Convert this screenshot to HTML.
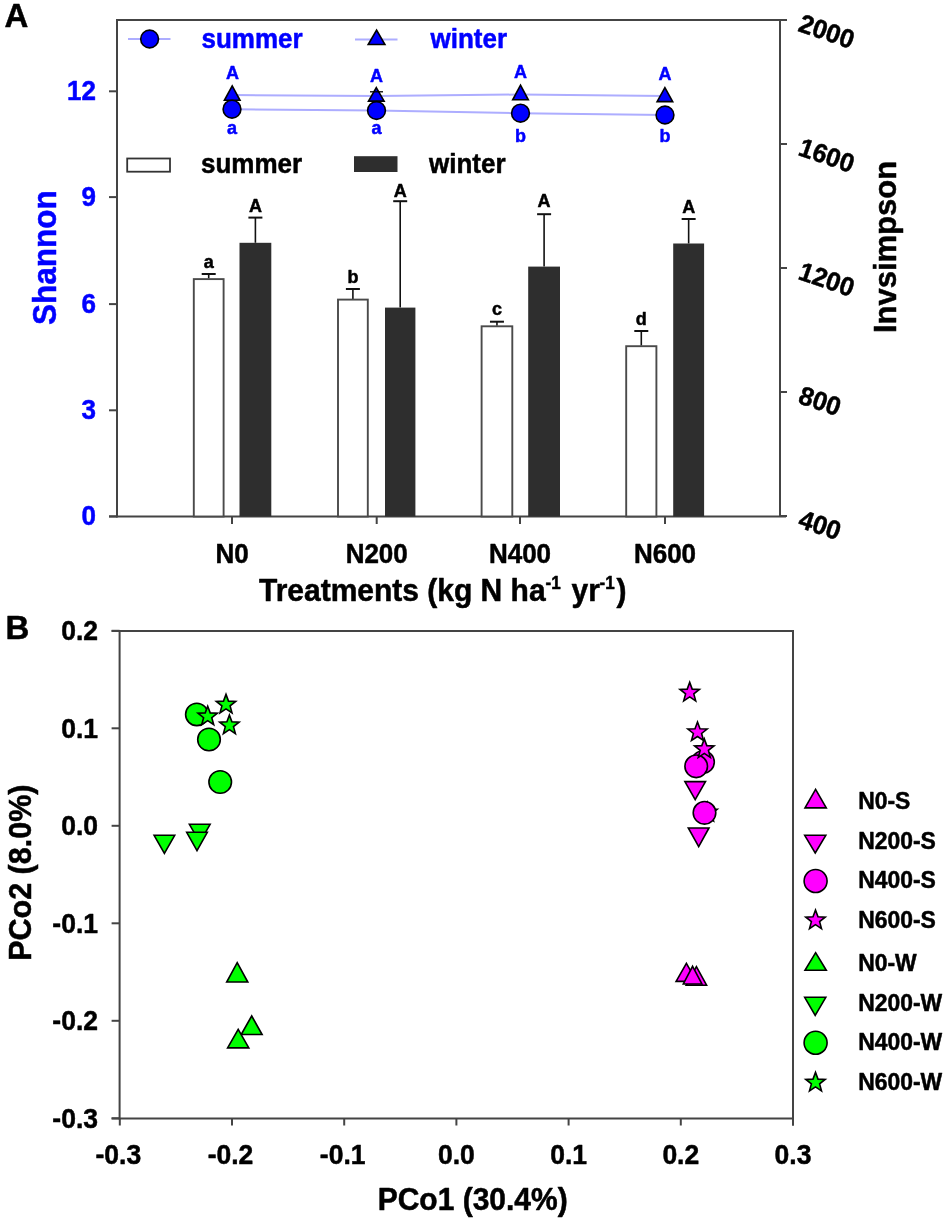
<!DOCTYPE html>
<html><head><meta charset="utf-8"><style>
html,body{margin:0;padding:0;background:#fff;overflow:hidden;}
svg{display:block;filter:blur(0.4px);}
text{font-family:"Liberation Sans",sans-serif;font-weight:bold;}
</style></head><body>
<svg width="945" height="1222" viewBox="0 0 945 1222">
<rect width="945" height="1222" fill="#fff"/>
<text transform="translate(4.5,27.3) scale(1,1.03)" font-size="33" fill="#000" stroke="#000" stroke-width="0.5" stroke-linejoin="round" text-anchor="start" >A</text>
<line x1="117" y1="19" x2="117" y2="517.5" stroke="#444" stroke-width="2"/>
<line x1="116" y1="20" x2="787" y2="20" stroke="#444" stroke-width="2"/>
<line x1="780" y1="20" x2="780" y2="516.5" stroke="#444" stroke-width="2"/>
<line x1="109" y1="516.5" x2="786" y2="516.5" stroke="#444" stroke-width="2"/>
<line x1="109" y1="516.4" x2="117" y2="516.4" stroke="#444" stroke-width="2"/>
<text transform="translate(96,525.4) scale(1,1.03)" font-size="26" fill="#0000ff" stroke="#0000ff" stroke-width="0.5" stroke-linejoin="round" text-anchor="end" >0</text>
<line x1="109" y1="410.3" x2="117" y2="410.3" stroke="#444" stroke-width="2"/>
<text transform="translate(96,419.3) scale(1,1.03)" font-size="26" fill="#0000ff" stroke="#0000ff" stroke-width="0.5" stroke-linejoin="round" text-anchor="end" >3</text>
<line x1="109" y1="304.1" x2="117" y2="304.1" stroke="#444" stroke-width="2"/>
<text transform="translate(96,313.1) scale(1,1.03)" font-size="26" fill="#0000ff" stroke="#0000ff" stroke-width="0.5" stroke-linejoin="round" text-anchor="end" >6</text>
<line x1="109" y1="197.1" x2="117" y2="197.1" stroke="#444" stroke-width="2"/>
<text transform="translate(96,206.1) scale(1,1.03)" font-size="26" fill="#0000ff" stroke="#0000ff" stroke-width="0.5" stroke-linejoin="round" text-anchor="end" >9</text>
<line x1="109" y1="91.3" x2="117" y2="91.3" stroke="#444" stroke-width="2"/>
<text transform="translate(96,100.3) scale(1,1.03)" font-size="26" fill="#0000ff" stroke="#0000ff" stroke-width="0.5" stroke-linejoin="round" text-anchor="end" >12</text>
<line x1="780" y1="20" x2="787" y2="20" stroke="#444" stroke-width="2"/>
<g transform="translate(800,22) rotate(19) scale(1,1.03)"><text x="0" y="0" font-size="25.5" fill="#000" stroke="#000" stroke-width="0.5" stroke-linejoin="round" dominant-baseline="central">2000</text></g>
<line x1="780" y1="144" x2="787" y2="144" stroke="#444" stroke-width="2"/>
<g transform="translate(800,146) rotate(19) scale(1,1.03)"><text x="0" y="0" font-size="25.5" fill="#000" stroke="#000" stroke-width="0.5" stroke-linejoin="round" dominant-baseline="central">1600</text></g>
<line x1="780" y1="268" x2="787" y2="268" stroke="#444" stroke-width="2"/>
<g transform="translate(800,270) rotate(19) scale(1,1.03)"><text x="0" y="0" font-size="25.5" fill="#000" stroke="#000" stroke-width="0.5" stroke-linejoin="round" dominant-baseline="central">1200</text></g>
<line x1="780" y1="392" x2="787" y2="392" stroke="#444" stroke-width="2"/>
<g transform="translate(800,394) rotate(19) scale(1,1.03)"><text x="0" y="0" font-size="25.5" fill="#000" stroke="#000" stroke-width="0.5" stroke-linejoin="round" dominant-baseline="central">800</text></g>
<line x1="780" y1="516" x2="787" y2="516" stroke="#444" stroke-width="2"/>
<g transform="translate(800,518) rotate(19) scale(1,1.03)"><text x="0" y="0" font-size="25.5" fill="#000" stroke="#000" stroke-width="0.5" stroke-linejoin="round" dominant-baseline="central">400</text></g>
<text transform="translate(56,257.7) rotate(-90) scale(1,1.03)" font-size="31.5" fill="#0000ff" stroke="#0000ff" stroke-width="0.5" stroke-linejoin="round" text-anchor="middle">Shannon</text>
<text transform="translate(896,247) rotate(-90) scale(1,1.03)" font-size="31" fill="#000" stroke="#000" stroke-width="0.5" stroke-linejoin="round" text-anchor="middle">Invsimpson</text>
<line x1="232" y1="516.5" x2="232" y2="524" stroke="#444" stroke-width="2"/>
<text transform="translate(232,563) scale(1,1.03)" font-size="26" fill="#000" stroke="#000" stroke-width="0.5" stroke-linejoin="round" text-anchor="middle" >N0</text>
<line x1="376.7" y1="516.5" x2="376.7" y2="524" stroke="#444" stroke-width="2"/>
<text transform="translate(376.7,563) scale(1,1.03)" font-size="26" fill="#000" stroke="#000" stroke-width="0.5" stroke-linejoin="round" text-anchor="middle" >N200</text>
<line x1="520" y1="516.5" x2="520" y2="524" stroke="#444" stroke-width="2"/>
<text transform="translate(520,563) scale(1,1.03)" font-size="26" fill="#000" stroke="#000" stroke-width="0.5" stroke-linejoin="round" text-anchor="middle" >N400</text>
<line x1="665" y1="516.5" x2="665" y2="524" stroke="#444" stroke-width="2"/>
<text transform="translate(665,563) scale(1,1.03)" font-size="26" fill="#000" stroke="#000" stroke-width="0.5" stroke-linejoin="round" text-anchor="middle" >N600</text>
<text transform="translate(259,601.3) scale(1,1.03)" font-size="30" fill="#000" stroke="#000" stroke-width="0.5" stroke-linejoin="round" text-anchor="start" >Treatments (kg N ha</text>
<text transform="translate(545.5,588.6) scale(1,1.03)" font-size="17" fill="#000" stroke="#000" stroke-width="0.5" stroke-linejoin="round" text-anchor="start" >-1</text>
<text transform="translate(571.5,601.3) scale(1,1.03)" font-size="30" fill="#000" stroke="#000" stroke-width="0.5" stroke-linejoin="round" text-anchor="start" >yr</text>
<text transform="translate(599.5,588.6) scale(1,1.03)" font-size="17" fill="#000" stroke="#000" stroke-width="0.5" stroke-linejoin="round" text-anchor="start" >-1</text>
<text transform="translate(616.5,601.3) scale(1,1.03)" font-size="30" fill="#000" stroke="#000" stroke-width="0.5" stroke-linejoin="round" text-anchor="start" >)</text>
<line x1="208.7" y1="278.5" x2="208.7" y2="274" stroke="#111" stroke-width="1.6"/>
<line x1="201.7" y1="274" x2="215.7" y2="274" stroke="#111" stroke-width="2"/>
<rect x="193.79999999999998" y="279.1" width="29.8" height="237.4" fill="#fff" stroke="#4a4a4a" stroke-width="1.9"/>
<text transform="translate(208.7,267.9) scale(1,1.03)" font-size="18" fill="#000" stroke="#000" stroke-width="0.5" stroke-linejoin="round" text-anchor="middle" >a</text>
<line x1="255.4" y1="242.8" x2="255.4" y2="217.6" stroke="#111" stroke-width="1.6"/>
<line x1="248.4" y1="217.6" x2="262.4" y2="217.6" stroke="#111" stroke-width="2"/>
<rect x="239.5" y="242.8" width="31.80000000000001" height="273.7" fill="#2e2e2e"/>
<text transform="translate(255.4,211.8) scale(1,1.03)" font-size="18" fill="#000" stroke="#000" stroke-width="0.5" stroke-linejoin="round" text-anchor="middle" >A</text>
<line x1="352.9" y1="299" x2="352.9" y2="289" stroke="#111" stroke-width="1.6"/>
<line x1="345.9" y1="289" x2="359.9" y2="289" stroke="#111" stroke-width="2"/>
<rect x="338.0" y="299.6" width="29.8" height="216.9" fill="#fff" stroke="#4a4a4a" stroke-width="1.9"/>
<text transform="translate(352.9,282.7) scale(1,1.03)" font-size="18" fill="#000" stroke="#000" stroke-width="0.5" stroke-linejoin="round" text-anchor="middle" >b</text>
<line x1="400.2" y1="307.6" x2="400.2" y2="201.2" stroke="#111" stroke-width="1.6"/>
<line x1="393.2" y1="201.2" x2="407.2" y2="201.2" stroke="#111" stroke-width="2"/>
<rect x="385" y="307.6" width="30.399999999999977" height="208.89999999999998" fill="#2e2e2e"/>
<text transform="translate(400.2,197.3) scale(1,1.03)" font-size="18" fill="#000" stroke="#000" stroke-width="0.5" stroke-linejoin="round" text-anchor="middle" >A</text>
<line x1="496.95" y1="325.7" x2="496.95" y2="321.7" stroke="#111" stroke-width="1.6"/>
<line x1="489.95" y1="321.7" x2="503.95" y2="321.7" stroke="#111" stroke-width="2"/>
<rect x="481.6" y="326.3" width="30.699999999999978" height="190.20000000000002" fill="#fff" stroke="#4a4a4a" stroke-width="1.9"/>
<text transform="translate(496.95,314.6) scale(1,1.03)" font-size="18" fill="#000" stroke="#000" stroke-width="0.5" stroke-linejoin="round" text-anchor="middle" >c</text>
<line x1="544.1" y1="266.6" x2="544.1" y2="214.2" stroke="#111" stroke-width="1.6"/>
<line x1="537.1" y1="214.2" x2="551.1" y2="214.2" stroke="#111" stroke-width="2"/>
<rect x="528.2" y="266.6" width="31.799999999999955" height="249.89999999999998" fill="#2e2e2e"/>
<text transform="translate(544.1,207.1) scale(1,1.03)" font-size="18" fill="#000" stroke="#000" stroke-width="0.5" stroke-linejoin="round" text-anchor="middle" >A</text>
<line x1="641.3" y1="345.6" x2="641.3" y2="331" stroke="#111" stroke-width="1.6"/>
<line x1="634.3" y1="331" x2="648.3" y2="331" stroke="#111" stroke-width="2"/>
<rect x="626.2" y="346.20000000000005" width="30.199999999999978" height="170.29999999999998" fill="#fff" stroke="#4a4a4a" stroke-width="1.9"/>
<text transform="translate(641.3,325.2) scale(1,1.03)" font-size="18" fill="#000" stroke="#000" stroke-width="0.5" stroke-linejoin="round" text-anchor="middle" >d</text>
<line x1="688.6500000000001" y1="243.5" x2="688.6500000000001" y2="219" stroke="#111" stroke-width="1.6"/>
<line x1="681.6500000000001" y1="219" x2="695.6500000000001" y2="219" stroke="#111" stroke-width="2"/>
<rect x="673.2" y="243.5" width="30.899999999999977" height="273.0" fill="#2e2e2e"/>
<text transform="translate(688.6500000000001,213.1) scale(1,1.03)" font-size="18" fill="#000" stroke="#000" stroke-width="0.5" stroke-linejoin="round" text-anchor="middle" >A</text>
<rect x="127.2" y="158.5" width="42.8" height="13.2" fill="#fff" stroke="#333" stroke-width="1.8"/>
<text transform="translate(201,173.3) scale(1,1.03)" font-size="26" fill="#000" stroke="#000" stroke-width="0.5" stroke-linejoin="round" text-anchor="start" >summer</text>
<rect x="354" y="156.2" width="43.5" height="15.8" fill="#2e2e2e"/>
<text transform="translate(429,173.3) scale(1,1.03)" font-size="26" fill="#000" stroke="#000" stroke-width="0.5" stroke-linejoin="round" text-anchor="start" >winter</text>
<line x1="128" y1="39" x2="170.5" y2="39" stroke="#adadff" stroke-width="2"/>
<circle cx="149.6" cy="39" r="8.9" fill="#0000ff" stroke="#000" stroke-width="1.6"/>
<text transform="translate(201.5,48.3) scale(1,1.03)" font-size="26" fill="#0000ff" stroke="#0000ff" stroke-width="0.5" stroke-linejoin="round" text-anchor="start" >summer</text>
<line x1="355" y1="39.5" x2="397.5" y2="39.5" stroke="#adadff" stroke-width="2"/>
<polygon points="376.6,30.2 384.9,44.5 368.2,44.5" fill="#0000ff" stroke="#000" stroke-width="1.6" stroke-linejoin="miter"/>
<text transform="translate(430.5,48.3) scale(1,1.03)" font-size="26" fill="#0000ff" stroke="#0000ff" stroke-width="0.5" stroke-linejoin="round" text-anchor="start" >winter</text>
<polyline points="232,95 376.5,96 520.5,94.5 665,96" fill="none" stroke="#adadff" stroke-width="2"/>
<polyline points="232,109.2 376.5,110.5 520.5,113.2 665,115" fill="none" stroke="#adadff" stroke-width="2"/>
<polygon points="232.2,85.9 240.0,100.3 224.4,100.3" fill="#0000ff" stroke="#000" stroke-width="1.6" stroke-linejoin="miter"/>
<polygon points="376.3,87.7 384.1,101.1 368.5,101.1" fill="#0000ff" stroke="#000" stroke-width="1.6" stroke-linejoin="miter"/>
<polygon points="520.5,85.1 528.3,99.8 512.7,99.8" fill="#0000ff" stroke="#000" stroke-width="1.6" stroke-linejoin="miter"/>
<polygon points="664.9,87.7 672.7,101.6 657.1,101.6" fill="#0000ff" stroke="#000" stroke-width="1.6" stroke-linejoin="miter"/>
<line x1="370" y1="91.8" x2="383" y2="91.8" stroke="#000" stroke-width="1.3"/>
<circle cx="232" cy="109.2" r="8.9" fill="#0000ff" stroke="#000" stroke-width="1.6"/>
<circle cx="376.5" cy="110.5" r="8.9" fill="#0000ff" stroke="#000" stroke-width="1.6"/>
<circle cx="520.5" cy="113.2" r="8.9" fill="#0000ff" stroke="#000" stroke-width="1.6"/>
<circle cx="665" cy="115" r="8.9" fill="#0000ff" stroke="#000" stroke-width="1.6"/>
<text transform="translate(232.5,79) scale(1,1.03)" font-size="18" fill="#0000ff" stroke="#0000ff" stroke-width="0.5" stroke-linejoin="round" text-anchor="middle" >A</text>
<text transform="translate(376.5,82.2) scale(1,1.03)" font-size="18" fill="#0000ff" stroke="#0000ff" stroke-width="0.5" stroke-linejoin="round" text-anchor="middle" >A</text>
<text transform="translate(520.5,77.8) scale(1,1.03)" font-size="18" fill="#0000ff" stroke="#0000ff" stroke-width="0.5" stroke-linejoin="round" text-anchor="middle" >A</text>
<text transform="translate(665,80.3) scale(1,1.03)" font-size="18" fill="#0000ff" stroke="#0000ff" stroke-width="0.5" stroke-linejoin="round" text-anchor="middle" >A</text>
<text transform="translate(232,133.5) scale(1,1.03)" font-size="18" fill="#0000ff" stroke="#0000ff" stroke-width="0.5" stroke-linejoin="round" text-anchor="middle" >a</text>
<text transform="translate(376.5,134) scale(1,1.03)" font-size="18" fill="#0000ff" stroke="#0000ff" stroke-width="0.5" stroke-linejoin="round" text-anchor="middle" >a</text>
<text transform="translate(520.5,142.3) scale(1,1.03)" font-size="18" fill="#0000ff" stroke="#0000ff" stroke-width="0.5" stroke-linejoin="round" text-anchor="middle" >b</text>
<text transform="translate(665,142.3) scale(1,1.03)" font-size="18" fill="#0000ff" stroke="#0000ff" stroke-width="0.5" stroke-linejoin="round" text-anchor="middle" >b</text>
<text transform="translate(5.5,639.3) scale(1,1.03)" font-size="33" fill="#000" stroke="#000" stroke-width="0.5" stroke-linejoin="round" text-anchor="start" >B</text>
<line x1="119.6" y1="630" x2="119.6" y2="1119.5" stroke="#444" stroke-width="2"/>
<line x1="111.6" y1="631" x2="794" y2="631" stroke="#444" stroke-width="2"/>
<line x1="793" y1="630" x2="793" y2="1125.5" stroke="#444" stroke-width="2"/>
<line x1="111.6" y1="1118.5" x2="793" y2="1118.5" stroke="#444" stroke-width="2"/>
<line x1="111.6" y1="630.8" x2="119.6" y2="630.8" stroke="#444" stroke-width="2"/>
<text transform="translate(98,640.3) scale(1,1.03)" font-size="26.5" fill="#000" stroke="#000" stroke-width="0.5" stroke-linejoin="round" text-anchor="end" >0.2</text>
<line x1="111.6" y1="728.3" x2="119.6" y2="728.3" stroke="#444" stroke-width="2"/>
<text transform="translate(98,737.8) scale(1,1.03)" font-size="26.5" fill="#000" stroke="#000" stroke-width="0.5" stroke-linejoin="round" text-anchor="end" >0.1</text>
<line x1="111.6" y1="825.8" x2="119.6" y2="825.8" stroke="#444" stroke-width="2"/>
<text transform="translate(98,835.3) scale(1,1.03)" font-size="26.5" fill="#000" stroke="#000" stroke-width="0.5" stroke-linejoin="round" text-anchor="end" >0.0</text>
<line x1="111.6" y1="923.3" x2="119.6" y2="923.3" stroke="#444" stroke-width="2"/>
<text transform="translate(98,932.8) scale(1,1.03)" font-size="26.5" fill="#000" stroke="#000" stroke-width="0.5" stroke-linejoin="round" text-anchor="end" >-0.1</text>
<line x1="111.6" y1="1020.8" x2="119.6" y2="1020.8" stroke="#444" stroke-width="2"/>
<text transform="translate(98,1030.3) scale(1,1.03)" font-size="26.5" fill="#000" stroke="#000" stroke-width="0.5" stroke-linejoin="round" text-anchor="end" >-0.2</text>
<line x1="111.6" y1="1118.3" x2="119.6" y2="1118.3" stroke="#444" stroke-width="2"/>
<text transform="translate(98,1127.8) scale(1,1.03)" font-size="26.5" fill="#000" stroke="#000" stroke-width="0.5" stroke-linejoin="round" text-anchor="end" >-0.3</text>
<line x1="119.8" y1="1118.5" x2="119.8" y2="1125.5" stroke="#444" stroke-width="2"/>
<text transform="translate(118.3,1164) scale(1,1.03)" font-size="26.5" fill="#000" stroke="#000" stroke-width="0.5" stroke-linejoin="round" text-anchor="middle" >-0.3</text>
<line x1="232.0" y1="1118.5" x2="232.0" y2="1125.5" stroke="#444" stroke-width="2"/>
<text transform="translate(230.5,1164) scale(1,1.03)" font-size="26.5" fill="#000" stroke="#000" stroke-width="0.5" stroke-linejoin="round" text-anchor="middle" >-0.2</text>
<line x1="344.2" y1="1118.5" x2="344.2" y2="1125.5" stroke="#444" stroke-width="2"/>
<text transform="translate(342.7,1164) scale(1,1.03)" font-size="26.5" fill="#000" stroke="#000" stroke-width="0.5" stroke-linejoin="round" text-anchor="middle" >-0.1</text>
<line x1="456.40000000000003" y1="1118.5" x2="456.40000000000003" y2="1125.5" stroke="#444" stroke-width="2"/>
<text transform="translate(456.40000000000003,1164) scale(1,1.03)" font-size="26.5" fill="#000" stroke="#000" stroke-width="0.5" stroke-linejoin="round" text-anchor="middle" >0.0</text>
<line x1="568.6" y1="1118.5" x2="568.6" y2="1125.5" stroke="#444" stroke-width="2"/>
<text transform="translate(568.6,1164) scale(1,1.03)" font-size="26.5" fill="#000" stroke="#000" stroke-width="0.5" stroke-linejoin="round" text-anchor="middle" >0.1</text>
<line x1="680.8" y1="1118.5" x2="680.8" y2="1125.5" stroke="#444" stroke-width="2"/>
<text transform="translate(680.8,1164) scale(1,1.03)" font-size="26.5" fill="#000" stroke="#000" stroke-width="0.5" stroke-linejoin="round" text-anchor="middle" >0.2</text>
<line x1="793.0" y1="1118.5" x2="793.0" y2="1125.5" stroke="#444" stroke-width="2"/>
<text transform="translate(793.0,1164) scale(1,1.03)" font-size="26.5" fill="#000" stroke="#000" stroke-width="0.5" stroke-linejoin="round" text-anchor="middle" >0.3</text>
<text transform="translate(472.7,1209.5) scale(1,1.03)" font-size="30" fill="#000" stroke="#000" stroke-width="0.5" stroke-linejoin="round" text-anchor="middle" >PCo1 (30.4%)</text>
<text transform="translate(31,872.7) rotate(-90) scale(1,1.03)" font-size="30.5" fill="#000" stroke="#000" stroke-width="0.5" stroke-linejoin="round" text-anchor="middle">PCo2 (8.0%)</text>
<circle cx="196.8" cy="714.4" r="11.200000000000001" fill="#00ff00" stroke="#000" stroke-width="1.6"/>
<polygon points="207.7,706.2 210.2,712.9 217.4,713.2 211.8,717.7 213.7,724.7 207.7,720.7 201.7,724.7 203.6,717.7 198.0,713.2 205.2,712.9" fill="#00ff00" stroke="#000" stroke-width="1.6" stroke-linejoin="miter"/>
<polygon points="226.0,694.4 228.5,701.1 235.7,701.4 230.1,705.9 232.0,712.9 226.0,708.9 220.0,712.9 221.9,705.9 216.3,701.4 223.5,701.1" fill="#00ff00" stroke="#000" stroke-width="1.6" stroke-linejoin="miter"/>
<polygon points="229.4,715.1 231.9,721.8 239.1,722.1 233.5,726.6 235.4,733.6 229.4,729.6 223.4,733.6 225.3,726.6 219.7,722.1 226.9,721.8" fill="#00ff00" stroke="#000" stroke-width="1.6" stroke-linejoin="miter"/>
<circle cx="209" cy="739.5" r="11.3" fill="#00ff00" stroke="#000" stroke-width="1.6"/>
<circle cx="220.2" cy="782" r="11.3" fill="#00ff00" stroke="#000" stroke-width="1.6"/>
<polygon points="164.4,853.3 174.7,835.3 154.1,835.3" fill="#00ff00" stroke="#000" stroke-width="1.6" stroke-linejoin="miter"/>
<polygon points="199.8,842.3 210.1,824.3 189.4,824.3" fill="#00ff00" stroke="#000" stroke-width="1.6" stroke-linejoin="miter"/>
<polygon points="197.0,850.6 207.3,832.3 186.7,832.3" fill="#00ff00" stroke="#000" stroke-width="1.6" stroke-linejoin="miter"/>
<polygon points="237.2,962.7 247.8,982.0 226.7,982.0" fill="#00ff00" stroke="#000" stroke-width="1.6" stroke-linejoin="miter"/>
<polygon points="251.7,1016.0 262.1,1034.5 241.2,1034.5" fill="#00ff00" stroke="#000" stroke-width="1.6" stroke-linejoin="miter"/>
<polygon points="238.2,1029.3 248.8,1047.9 227.6,1047.9" fill="#00ff00" stroke="#000" stroke-width="1.6" stroke-linejoin="miter"/>
<polygon points="689.7,682.4 692.2,689.1 699.4,689.4 693.8,693.9 695.7,700.9 689.7,696.9 683.7,700.9 685.6,693.9 680.0,689.4 687.2,689.1" fill="#ff00ff" stroke="#000" stroke-width="1.6" stroke-linejoin="miter"/>
<polygon points="697.5,722.0 700.0,728.7 707.2,729.0 701.6,733.5 703.5,740.5 697.5,736.5 691.5,740.5 693.4,733.5 687.8,729.0 695.0,728.7" fill="#ff00ff" stroke="#000" stroke-width="1.6" stroke-linejoin="miter"/>
<circle cx="703" cy="762" r="11.3" fill="#ff00ff" stroke="#000" stroke-width="1.6"/>
<circle cx="696.2" cy="766.3" r="11.3" fill="#ff00ff" stroke="#000" stroke-width="1.6"/>
<polygon points="704.3,738.9 706.8,745.6 714.0,745.9 708.4,750.4 710.3,757.4 704.3,753.4 698.3,757.4 700.2,750.4 694.6,745.9 701.8,745.6" fill="#ff00ff" stroke="#000" stroke-width="1.6" stroke-linejoin="miter"/>
<polygon points="695.2,799.6 705.5,781.6 684.9,781.6" fill="#ff00ff" stroke="#000" stroke-width="1.6" stroke-linejoin="miter"/>
<polygon points="707.5,802.3 710.0,809.0 717.2,809.3 711.6,813.8 713.5,820.8 707.5,816.8 701.5,820.8 703.4,813.8 697.8,809.3 705.0,809.0" fill="#ff00ff" stroke="#000" stroke-width="1.6" stroke-linejoin="miter"/>
<circle cx="704.5" cy="812.8" r="11.3" fill="#ff00ff" stroke="#000" stroke-width="1.6"/>
<polygon points="698.7,846.6 709.0,828.0 688.3,828.0" fill="#ff00ff" stroke="#000" stroke-width="1.6" stroke-linejoin="miter"/>
<polygon points="686.4,963.3 696.7,981.4 676.1,981.4" fill="#ff00ff" stroke="#000" stroke-width="1.6" stroke-linejoin="miter"/>
<polygon points="696.4,966.7 706.6,985.2 686.2,985.2" fill="#ff00ff" stroke="#000" stroke-width="1.6" stroke-linejoin="miter"/>
<polygon points="692.6,966.3 701.9,984.0 683.3,984.0" fill="#ff00ff" stroke="#000" stroke-width="1.6" stroke-linejoin="miter"/>
<polygon points="815.6,789.3 826.3,807.9 805.0,807.9" fill="#ff00ff" stroke="#000" stroke-width="1.6" stroke-linejoin="miter"/>
<text transform="translate(858.2,809.2) scale(1,1.03)" font-size="22.9" fill="#000" stroke="#000" stroke-width="0.5" stroke-linejoin="round" text-anchor="start" >N0-S</text>
<polygon points="815.2,853.0 825.8,835.3 804.7,835.3" fill="#ff00ff" stroke="#000" stroke-width="1.6" stroke-linejoin="miter"/>
<text transform="translate(858.2,848.8000000000001) scale(1,1.03)" font-size="22.9" fill="#000" stroke="#000" stroke-width="0.5" stroke-linejoin="round" text-anchor="start" >N200-S</text>
<circle cx="815.6" cy="881.05" r="11.5" fill="#ff00ff" stroke="#000" stroke-width="1.6"/>
<text transform="translate(858.2,888.4000000000001) scale(1,1.03)" font-size="22.9" fill="#000" stroke="#000" stroke-width="0.5" stroke-linejoin="round" text-anchor="start" >N400-S</text>
<polygon points="815.5,910.1 818.0,916.8 825.2,917.1 819.6,921.6 821.5,928.6 815.5,924.6 809.5,928.6 811.4,921.6 805.8,917.1 813.0,916.8" fill="#ff00ff" stroke="#000" stroke-width="1.6" stroke-linejoin="miter"/>
<text transform="translate(858.2,928.0) scale(1,1.03)" font-size="22.9" fill="#000" stroke="#000" stroke-width="0.5" stroke-linejoin="round" text-anchor="start" >N600-S</text>
<polygon points="815.6,952.7 826.3,970.3 805.0,970.3" fill="#00ff00" stroke="#000" stroke-width="1.6" stroke-linejoin="miter"/>
<text transform="translate(858.2,971.3000000000001) scale(1,1.03)" font-size="22.9" fill="#000" stroke="#000" stroke-width="0.5" stroke-linejoin="round" text-anchor="start" >N0-W</text>
<polygon points="815.2,1015.3 825.8,997.3 804.7,997.3" fill="#00ff00" stroke="#000" stroke-width="1.6" stroke-linejoin="miter"/>
<text transform="translate(858.2,1010.7) scale(1,1.03)" font-size="22.9" fill="#000" stroke="#000" stroke-width="0.5" stroke-linejoin="round" text-anchor="start" >N200-W</text>
<circle cx="815.6" cy="1042.8000000000002" r="11.5" fill="#00ff00" stroke="#000" stroke-width="1.6"/>
<text transform="translate(858.2,1050.0) scale(1,1.03)" font-size="22.9" fill="#000" stroke="#000" stroke-width="0.5" stroke-linejoin="round" text-anchor="start" >N400-W</text>
<polygon points="815.5,1072.4 818.0,1079.1 825.2,1079.4 819.6,1083.9 821.5,1090.9 815.5,1086.9 809.5,1090.9 811.4,1083.9 805.8,1079.4 813.0,1079.1" fill="#00ff00" stroke="#000" stroke-width="1.6" stroke-linejoin="miter"/>
<text transform="translate(858.2,1089.5) scale(1,1.03)" font-size="22.9" fill="#000" stroke="#000" stroke-width="0.5" stroke-linejoin="round" text-anchor="start" >N600-W</text>
</svg>
</body></html>
